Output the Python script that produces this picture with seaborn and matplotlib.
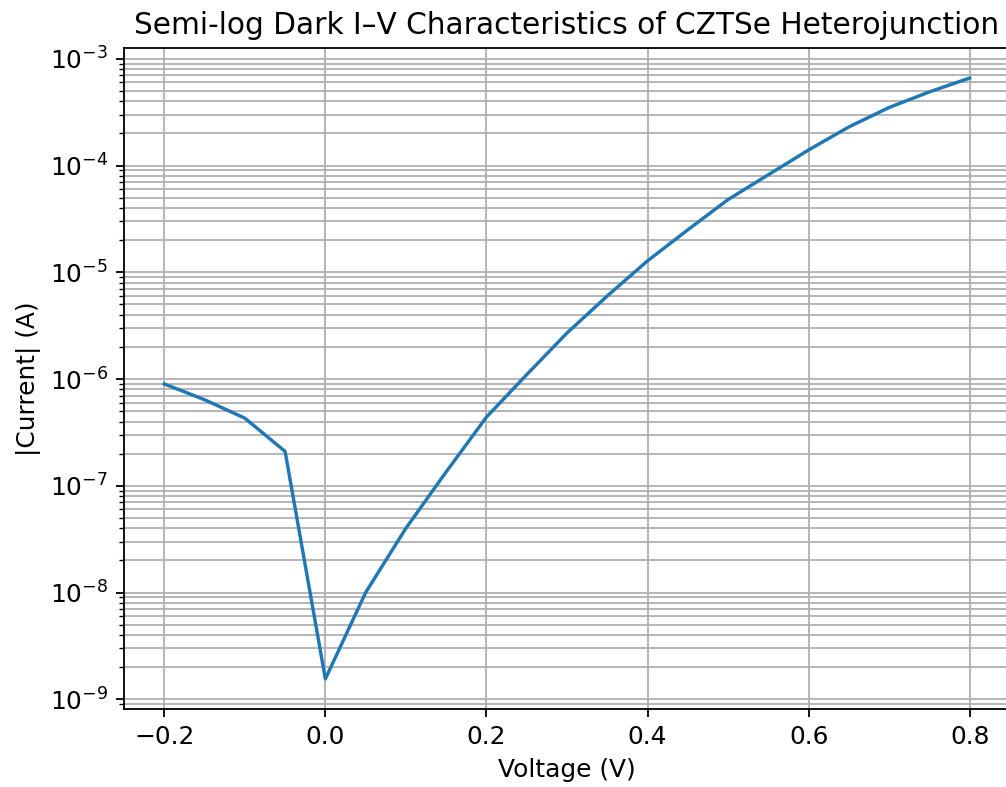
import numpy as np
import pandas as pd
import matplotlib
matplotlib.use('Agg')
import matplotlib.pyplot as plt
import seaborn as sns

# 1. dark I-V data
voltage = [-0.20, -0.15, -0.10, -0.05, 0.00, 0.05, 0.10, 0.15, 0.20, 0.25, 0.30,
           0.35, 0.40, 0.45, 0.50, 0.55, 0.60, 0.65, 0.70, 0.75, 0.80]
current_abs = [9.0e-7, 6.4e-7, 4.3e-7, 2.1e-7, 1.55e-9, 1.0e-8, 4.0e-8, 1.35e-7,
               4.4e-7, 1.1e-6, 2.7e-6, 6.0e-6, 1.28e-5, 2.5e-5, 4.8e-5, 8.2e-5,
               1.4e-4, 2.3e-4, 3.5e-4, 4.9e-4, 6.6e-4]

df = pd.DataFrame({'V': voltage, 'I': current_abs})

# 2. figure: default matplotlib look, rendered at a high dpi
plt.rcParams['font.family'] = ['DejaVu Sans']
plt.rcParams['font.size'] = 11
plt.rcParams['axes.titlesize'] = 13.1
plt.rcParams['axes.labelsize'] = 11
plt.rcParams['xtick.labelsize'] = 11
plt.rcParams['ytick.labelsize'] = 11

fig = plt.figure(figsize=(1006 / 163, 787 / 163), dpi=163)
ax = fig.add_axes([124 / 1006, 78 / 787, 886 / 1006, 661 / 787])

sns.lineplot(data=df, x='V', y='I', ax=ax, color='#1f77b4', linewidth=1.5)
ax.set_yscale('log')

ax.set_title('Semi-log Dark I\u2013V Characteristics of CZTSe Heterojunction')
ax.set_xlabel('Voltage (V)')
ax.set_ylabel('|Current| (A)')
ax.grid(True, which='both')

fig.savefig('out.png', dpi=163)
